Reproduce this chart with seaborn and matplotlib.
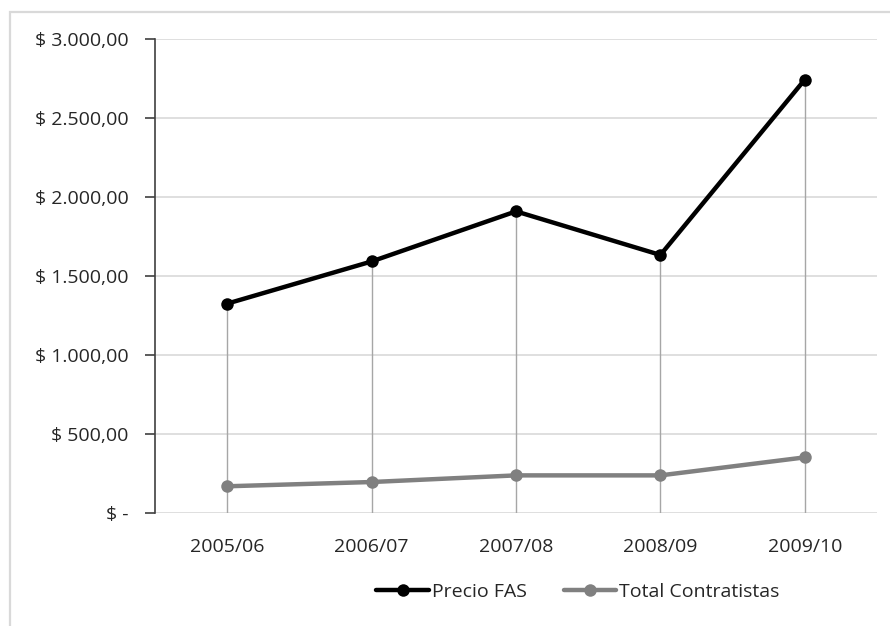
import matplotlib
matplotlib.use("Agg")
import matplotlib.pyplot as plt
import matplotlib.ticker as mticker
from matplotlib.patches import Rectangle
from matplotlib.lines import Line2D
import seaborn as sns
import pandas as pd

# Campaign years and series values
campanias = ["2005/06", "2006/07", "2007/08", "2008/09", "2009/10"]
precio_fas = [1327, 1594, 1911, 1635, 2745]
total_contratistas = [171, 198, 240, 240, 354]
series_names = ["Precio FAS", "Total Contratistas"]
y_ticks = [0, 500, 1000, 1500, 2000, 2500, 3000]

sns.set_theme(style="white")
plt.rcParams["font.family"] = ["Open Sans", "DejaVu Sans"]

FS = 14

df = pd.DataFrame({
    "campania": campanias * 2,
    "valor": precio_fas + total_contratistas,
    "serie": [series_names[0]] * len(campanias) + [series_names[1]] * len(campanias),
})

fig = plt.figure(figsize=(8.9, 6.26), dpi=100)
ax = fig.add_axes([155 / 890, 1 - 513.3 / 626, (877 - 155) / 890, (513.3 - 39.3) / 626])

palette = {series_names[0]: "#000000", series_names[1]: "#808080"}
sns.lineplot(data=df, x="campania", y="valor", hue="serie", palette=palette,
             marker="o", markersize=9, linewidth=3.2, markeredgewidth=0,
             ax=ax, legend=False, sort=False, zorder=3)

# Drop lines from the upper series to the baseline
xs = list(range(len(campanias)))
ax.vlines(xs, 0, precio_fas, colors="#a6a6a6", linewidth=1.0, zorder=2)

ax.set_xlim(-0.5, len(campanias) - 0.5)
ax.set_ylim(0, 3000)
ax.set_yticks(y_ticks)


def pesos(v, pos):
    if v == 0:
        return "$ -"
    s = f"{v:,.2f}".replace(",", "X").replace(".", ",").replace("X", ".")
    return "$ " + s


ax.yaxis.set_major_formatter(mticker.FuncFormatter(pesos))
ax.grid(axis="y", color="#d9d9d9", linewidth=1.2, zorder=0)
ax.grid(axis="x", visible=False)
for side in ["top", "right", "bottom"]:
    ax.spines[side].set_visible(False)
ax.spines["left"].set_color("#404040")
ax.spines["left"].set_linewidth(1.2)
ax.tick_params(axis="y", which="major", left=True, length=7, width=1.2,
               color="#404040", labelsize=FS, labelcolor="#262626", pad=12)
ax.tick_params(axis="x", bottom=False, labelsize=FS, labelcolor="#262626", pad=12)
ax.set_xlabel("")
ax.set_ylabel("")

handles = [
    Line2D([], [], color="#000000", linewidth=3.2, marker="o", markersize=9, markeredgewidth=0),
    Line2D([], [], color="#808080", linewidth=3.2, marker="o", markersize=9, markeredgewidth=0),
]
fig.legend(handles, series_names, loc="center", bbox_to_anchor=(578 / 890, 1 - 592 / 626),
           ncol=2, frameon=False, fontsize=FS, handlelength=2.7, handletextpad=0.15,
           columnspacing=1.9, labelcolor="#262626")

# Chart area border
fig.patches.append(Rectangle((10 / 890, -0.1), 1.2, 1 - 12 / 626 + 0.1,
                             transform=fig.transFigure, fill=False,
                             edgecolor="#d9d9d9", linewidth=1.6, zorder=0))

fig.savefig("out.png", dpi=100)
